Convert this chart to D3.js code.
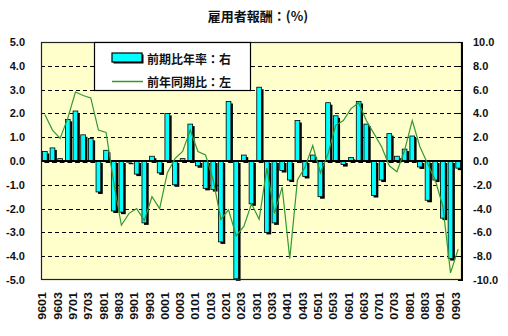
<!DOCTYPE html>
<html>
<head>
<meta charset="utf-8">
<script src="https://cdn.jsdelivr.net/npm/d3@7"></script>
<style>
  html, body { margin: 0; padding: 0; background: #fff; }
  svg { display: block; }
  .num { font-family: "Liberation Sans", Arial, sans-serif; font-weight: bold; fill: #111; }
  .jp { font-family: "Noto Sans CJK JP", sans-serif; font-weight: bold; fill: #111; }
</style>
</head>
<body>
<svg id="chart" width="508" height="336"></svg>
<script>
// Quarters, 1996 Q1 – 2009 Q3 (YYQQ)
const quarters = [
  "9601","9602","9603","9604","9701","9702","9703","9704",
  "9801","9802","9803","9804","9901","9902","9903","9904",
  "0001","0002","0003","0004","0101","0102","0103","0104",
  "0201","0202","0203","0204","0301","0302","0303","0304",
  "0401","0402","0403","0404","0501","0502","0503","0504",
  "0601","0602","0603","0604","0701","0702","0703","0704",
  "0801","0802","0803","0804","0901","0902","0903"
];

// 前期比年率 (annualized q/q, %), right axis
const qoqAnnualized = [
  0.8, 1.1, 0.2, 3.5,
  4.2, 2.2, 1.9, -2.6,
  0.9, -4.2, -4.3, -0.1,
  -1.1, -5.2, 0.4, -1.0,
  4.0, -2.0, 0.2, 3.1,
  -0.4, -2.3, -2.4, -6.8,
  5.0, -9.9, 0.5, -3.6,
  6.2, -6.0, -5.2, -0.8,
  -1.6, 3.4, -1.3, 0.5,
  -3.0, 4.9, 3.8, -0.3,
  0.3, 5.0, 3.1, -2.9,
  -1.6, 2.3, 0.4, 1.0,
  2.1, -0.5, -3.3, -1.6,
  -4.8, -8.2, -0.6
];

// 前年同期比 (y/y, %), left axis
const yoy = [
  1.95, 1.3, 0.95, 1.8,
  2.9, 2.75, 2.65, 1.3,
  1.2, -0.9, -2.7, -2.2,
  -2.0, -2.5, -1.5, -2.0,
  -0.5, 0.1, 0.4, 1.3,
  0.4, 0.25, -0.8, -2.45,
  -2.05, -3.15, -2.75, -1.8,
  -2.45, -0.3, -2.2, -1.1,
  -4.1, -0.8, -0.25, 0.65,
  -0.5, 0.3, 1.5, 1.7,
  2.2, 2.45, 1.7, 1.15,
  0.6, -0.2, -0.45, 0.45,
  1.7, 0.6, -0.1, -0.8,
  -1.9, -4.7, -3.7
];

const leftTicks = [5, 4, 3, 2, 1, 0, -1, -2, -3, -4, -5];
const rightTicks = [10, 8, 6, 4, 2, 0, -2, -4, -6, -8, -10];
const xTickLabels = quarters.filter(q => q.endsWith("01") || q.endsWith("03"));

const titleText = "雇用者報酬：(%)";
const seriesNames = ["前期比年率：右", "前年同期比：左"];

// ---- layout ----
const plot = { left: 41, right: 462, top: 42, bottom: 280 };
const svg = d3.select("#chart");

const x = d3.scaleBand().domain(quarters)
  .range([plot.left, plot.right]).paddingInner(0.38).paddingOuter(0.19);
const bw = x.bandwidth();
const cx = q => x(q) + bw / 2;
const yL = d3.scaleLinear().domain([-5, 5]).range([plot.bottom, plot.top]);
const yR = d3.scaleLinear().domain([-10, 10]).range([plot.bottom, plot.top]);

// title
svg.append("text").attr("class", "jp")
  .attr("x", 258).attr("y", 15)
  .attr("text-anchor", "middle").attr("dominant-baseline", "central")
  .style("font-size", "13px")
  .text(titleText);

// plot area background
svg.append("rect")
  .attr("x", plot.left).attr("y", plot.top)
  .attr("width", plot.right - plot.left).attr("height", plot.bottom - plot.top)
  .attr("fill", "#ffffcc");

// dashed gridlines
svg.append("g").selectAll("line")
  .data(leftTicks.filter(v => v !== 0 && v !== 5 && v !== -5))
  .join("line")
  .attr("x1", plot.left).attr("x2", plot.right)
  .attr("y1", d => Math.round(yL(d)) + 0.5).attr("y2", d => Math.round(yL(d)) + 0.5)
  .attr("stroke", "#000").attr("stroke-width", 1)
  .attr("stroke-dasharray", "4,3");

// bars with drop shadow
const bars = svg.append("g");
const barData = quarters.map((q, i) => ({ q, v: qoqAnnualized[i] }));
bars.selectAll("rect.shadow").data(barData).join("rect")
  .attr("class", "shadow")
  .attr("x", d => x(d.q) + 2)
  .attr("y", d => yR(Math.max(0, d.v)) + 2)
  .attr("width", bw)
  .attr("height", d => Math.abs(yR(d.v) - yR(0)))
  .attr("fill", "#000");
bars.selectAll("rect.bar").data(barData).join("rect")
  .attr("class", "bar")
  .attr("x", d => x(d.q))
  .attr("y", d => yR(Math.max(0, d.v)))
  .attr("width", bw)
  .attr("height", d => Math.abs(yR(d.v) - yR(0)))
  .attr("fill", "#00ffff")
  .attr("stroke", "#000").attr("stroke-width", 0.8);

// zero line
svg.append("line")
  .attr("x1", plot.left).attr("x2", plot.right)
  .attr("y1", yL(0)).attr("y2", yL(0))
  .attr("stroke", "#000").attr("stroke-width", 2);

// y/y line
const line = d3.line().x(d => cx(d.q)).y(d => yL(d.v));
svg.append("path")
  .datum(quarters.map((q, i) => ({ q, v: yoy[i] })))
  .attr("d", line)
  .attr("fill", "none").attr("stroke", "#339933").attr("stroke-width", 1.2);

// plot border and right axis
svg.append("rect")
  .attr("x", plot.left + 0.5).attr("y", plot.top + 0.5)
  .attr("width", plot.right - plot.left - 1).attr("height", plot.bottom - plot.top - 1)
  .attr("fill", "none").attr("stroke", "#222").attr("stroke-width", 1.2);
svg.append("line")
  .attr("x1", plot.right).attr("x2", plot.right)
  .attr("y1", plot.top).attr("y2", plot.bottom + 1)
  .attr("stroke", "#000").attr("stroke-width", 2);
svg.append("g").selectAll("line").data(rightTicks).join("line")
  .attr("x1", plot.right - 4).attr("x2", plot.right)
  .attr("y1", d => Math.round(yR(d)) + 0.5).attr("y2", d => Math.round(yR(d)) + 0.5)
  .attr("stroke", "#000").attr("stroke-width", 1);

// left axis labels
const axL = svg.append("g").attr("transform", "translate(25,0)")
  .call(d3.axisLeft(yL).tickValues(leftTicks).tickSize(0).tickPadding(0)
    .tickFormat(d => d.toFixed(1)));
axL.select(".domain").remove();
axL.selectAll("text").attr("class", "num").style("font-size", "11px");

// right axis labels
const axR = svg.append("g").attr("transform", "translate(473,0)")
  .call(d3.axisRight(yR).tickValues(rightTicks).tickSize(0).tickPadding(0)
    .tickFormat(d => d.toFixed(1)));
axR.select(".domain").remove();
axR.selectAll("text").attr("class", "num").style("font-size", "11px");

// category labels, rotated
const axX = svg.append("g")
  .call(d3.axisBottom(x).tickValues(xTickLabels).tickSize(0));
axX.select(".domain").remove();
axX.selectAll(".tick").attr("transform", null);
axX.selectAll(".tick text")
  .attr("class", "num")
  .attr("x", null).attr("y", null).attr("dy", null)
  .attr("text-anchor", "end")
  .attr("dominant-baseline", "central")
  .attr("transform", d => `translate(${cx(d) - 2},292) rotate(-90) scale(1,0.8)`)
  .style("font-size", "12.5px");

// legend
const lg = svg.append("g");
lg.append("rect").attr("x", 94.5).attr("y", 42.5).attr("width", 156).attr("height", 48)
  .attr("fill", "#fff").attr("stroke", "#000").attr("stroke-width", 1.2);
lg.append("rect").attr("x", 113.5).attr("y", 54.5).attr("width", 30).attr("height", 9)
  .attr("fill", "#000");
lg.append("rect").attr("x", 112).attr("y", 53).attr("width", 30).attr("height", 9)
  .attr("fill", "#00ffff").attr("stroke", "#000").attr("stroke-width", 1.2);
lg.append("line").attr("x1", 112).attr("x2", 143).attr("y1", 81.5).attr("y2", 81.5)
  .attr("stroke", "#339933").attr("stroke-width", 1.5);
lg.selectAll("text.jp").data(seriesNames).join("text")
  .attr("class", "jp")
  .attr("x", 147).attr("y", (d, i) => i === 0 ? 58.5 : 81.5)
  .attr("dominant-baseline", "central")
  .style("font-size", "12px")
  .text(d => d);
</script>
</body>
</html>
